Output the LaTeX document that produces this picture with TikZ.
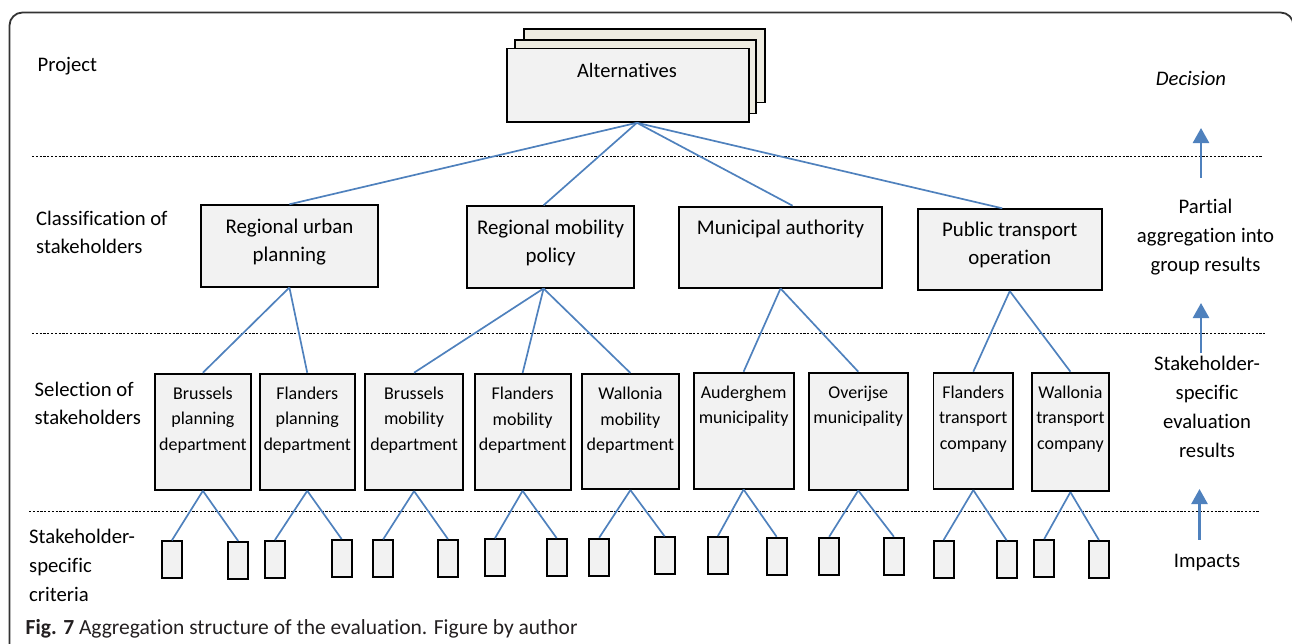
\documentclass[tikz,border=0pt]{standalone}
\usepackage{fontspec}
\setmainfont[Ligatures={NoCommon}]{Carlito}
\usetikzlibrary{arrows.meta,calc}
\definecolor{linkblue}{HTML}{4F81BD}
\definecolor{boxfill}{HTML}{F2F2F2}
\definecolor{stackfill}{HTML}{EEECE1}
\definecolor{framegray}{HTML}{333333}
\definecolor{captext}{HTML}{231F20}

\begin{document}
\begin{tikzpicture}[x=1pt,y=-1pt,
  box/.style={draw=black, line width=1.8pt, fill=boxfill, inner sep=0pt, anchor=north west},
  stackbox/.style={box, fill=stackfill},
  leaf/.style={box, minimum width=20pt, minimum height=37pt},
  link/.style={draw=linkblue, line width=1.7pt},
  upflow/.style={draw=linkblue, line width=2.6pt, -{Triangle[width=16pt,length=15pt]}},
  levelline/.style={draw=black, line width=0.9pt, dash pattern=on 2.2pt off 1.6pt},
  % multi-line texts are placed by the baseline of their last line
  ctext/.style={anchor=base, align=center, inner sep=0pt, font=\fontsize{20.9}{28}\selectfont},
  stext/.style={anchor=base, align=center, inner sep=0pt, font=\fontsize{18}{25.6}\selectfont},
  ltext/.style={anchor=base west, align=left, inner sep=0pt, font=\fontsize{20.7}{28.5}\selectfont},
  rtext/.style={anchor=base, align=center, inner sep=0pt, font=\fontsize{20.7}{29.2}\selectfont},
]
\useasboundingbox (0,0) rectangle (1292,643);
\begin{scope}
\clip (0,0) rectangle (1292,643);

% outer frame
\draw[framegray, line width=1.8pt, rounded corners=13pt] (9.5,12.5) rectangle (1293.5,700);

% level separators
\coordinate (d1a) at (32,156);   \coordinate (d1b) at (1262,156);
\coordinate (d2a) at (32,333.5); \coordinate (d2b) at (1265,333.5);
\coordinate (d3a) at (29,511);   \coordinate (d3b) at (1260,511);
\draw[levelline] (d1a) -- (d1b);
\draw[levelline] (d2a) -- (d2b);
\draw[levelline] (d3a) -- (d3b);

% stacked alternatives
\node[stackbox, minimum width=241pt, minimum height=73.5pt] (altc) at (523,28) {};
\node[stackbox, minimum width=241pt, minimum height=73.5pt] (altb) at (514,39) {};
\node[box, minimum width=242pt, minimum height=73.5pt] (alt) at (506,47.5) {};
\node[anchor=base, inner sep=0pt, font=\fontsize{20.5}{26}\selectfont] (altt) at (627,77.7) {Alternatives};

% stakeholder classes
\node[box, minimum width=177pt, minimum height=81.4pt] (cls1) at (200,204.3) {};
\node[box, minimum width=167.3pt, minimum height=81.4pt] (cls2) at (466,205.3) {};
\node[box, minimum width=202.7pt, minimum height=81pt] (cls3) at (678.3,205.7) {};
\node[box, minimum width=184.3pt, minimum height=81pt] (cls4) at (916.7,208.3) {};
\node[ctext] (cls1t) at ([yshift=-56.8pt]cls1.north) {Regional urban\\planning};
\node[ctext] (cls2t) at ([yshift=-56.8pt]cls2.north) {Regional mobility\\policy};
\node[ctext] (cls3t) at ([yshift=-28.8pt]cls3.north) {Municipal authority};
\node[ctext] (cls4t) at ([yshift=-56.4pt]cls4.north) {Public transport\\operation};

% selected stakeholders
\node[box, minimum width=96pt,   minimum height=116.3pt] (sp1) at (154,372.7) {};
\node[box, minimum width=95.3pt, minimum height=116.3pt] (sp2) at (258.7,372.7) {};
\node[box, minimum width=98.3pt, minimum height=116.6pt] (sp3) at (364,372.7) {};
\node[box, minimum width=96pt,   minimum height=116pt]   (sp4) at (473.7,373) {};
\node[box, minimum width=97.6pt, minimum height=115.3pt] (sp5) at (580.7,373) {};
\node[box, minimum width=100pt,  minimum height=116pt]   (sp6) at (692.7,371.7) {};
\node[box, minimum width=99.3pt, minimum height=117pt]   (sp7) at (807.7,371.7) {};
\node[box, minimum width=79.8pt, minimum height=116.6pt] (sp8) at (932.5,371.7) {};
\node[box, minimum width=77.6pt, minimum height=118.6pt] (sp9) at (1030.7,371.7) {};
\node[stext] (sp1t) at ([yshift=-77.6pt]sp1.north) {Brussels\\planning\\department};
\node[stext] (sp2t) at ([yshift=-77.6pt]sp2.north) {Flanders\\planning\\department};
\node[stext] (sp3t) at ([yshift=-77.6pt]sp3.north) {Brussels\\mobility\\department};
\node[stext] (sp4t) at ([yshift=-77.6pt]sp4.north) {Flanders\\mobility\\department};
\node[stext] (sp5t) at ([yshift=-77.6pt]sp5.north) {Wallonia\\mobility\\department};
\node[stext] (sp6t) at ([yshift=-52.2pt]sp6.north) {Auderghem\\municipality};
\node[stext] (sp7t) at ([yshift=-52.2pt]sp7.north) {Overijse\\municipality};
\node[stext] (sp8t) at ([yshift=-77.8pt]sp8.north) {Flanders\\transport\\company};
\node[stext] (sp9t) at ([yshift=-77.8pt]sp9.north) {Wallonia\\transport\\company};

% stakeholder-specific criteria
\foreach \n/\x/\y in {1/161/540.3, 2/227.3/541, 3/264/540, 4/330.7/539,
  5/372.3/539.3, 6/437/539, 7/484/538.3, 8/545.7/538, 9/588.3/537.7,
  10/653.7/536.3, 11/707/536, 12/765.7/536.7, 13/818.3/536.7, 14/883/536.7,
  15/932.7/540, 16/995.7/540.3, 17/1033.3/539, 18/1088/540}
  \node[leaf] (crit\n) at (\x,\y) {};

% aggregation links
\foreach \c/\dx in {1/0, 2/-7, 3/12, 4/-7.5}
  \draw[link] ([xshift=9pt]alt.south) -- ([xshift=\dx pt]cls\c.north);
\draw[link] (cls1.south) -- (sp1.north);
\draw[link] (cls1.south) -- (sp2.north);
\draw[link] ([xshift=-7pt]cls2.south) -- (sp3.north);
\draw[link] ([xshift=-7pt]cls2.south) -- (sp4.north);
\draw[link] ([xshift=-7pt]cls2.south) -- (sp5.north);
\draw[link] (cls3.south) -- (sp6.north);
\draw[link] (cls3.south) -- (sp7.north);
\draw[link] (cls4.south) -- (sp8.north);
\draw[link] (cls4.south) -- (sp9.north);
\foreach \s/\a/\b in {1/1/2, 2/3/4, 3/5/6, 4/7/8, 5/9/10, 6/11/12, 7/13/14, 8/15/16, 9/17/18} {
  \draw[link] (sp\s.south) -- (crit\a.north);
  \draw[link] (sp\s.south) -- (crit\b.north);
}

% level names
\node[ltext] (lvl1) at (37.5,71) {Project};
\node[ltext] (lvl2) at (36,253.8) {Classification of\\stakeholders};
\node[ltext] (lvl3) at (34.5,424.5) {Selection of\\stakeholders};
\node[ltext, font=\fontsize{20.7}{29.2}\selectfont] (lvl4) at (29,601.7) {Stakeholder-\\specific\\criteria};

% results per level
\node[rtext] (res1) at (1191,85) {\itshape Decision};
\node[rtext] (res2) at (1205.5,271.7) {Partial\\aggregation into\\group results};
\node[rtext, font=\fontsize{20.7}{29}\selectfont] (res3) at (1207,457.3) {Stakeholder-\\specific\\evaluation\\results};
\node[rtext] (res4) at (1207,567.3) {Impacts};

% upward flow
\coordinate (f1a) at (1201,177.5); \coordinate (f1b) at (1201,128);
\coordinate (f2a) at (1201,353);   \coordinate (f2b) at (1201,303);
\coordinate (f3a) at (1199.5,539.5); \coordinate (f3b) at (1199.5,489);
\draw[upflow] (f1a) -- (f1b);
\draw[upflow] (f2a) -- (f2b);
\draw[upflow] (f3a) -- (f3b);

% caption
\node[anchor=base west, inner sep=0pt, text=captext, font=\fontsize{21.5}{26}\selectfont] (cap) at (25.5,634)
  {\textbf{Fig. 7} Aggregation structure of the evaluation. Figure by author};
\end{scope}
\end{tikzpicture}
\end{document}
